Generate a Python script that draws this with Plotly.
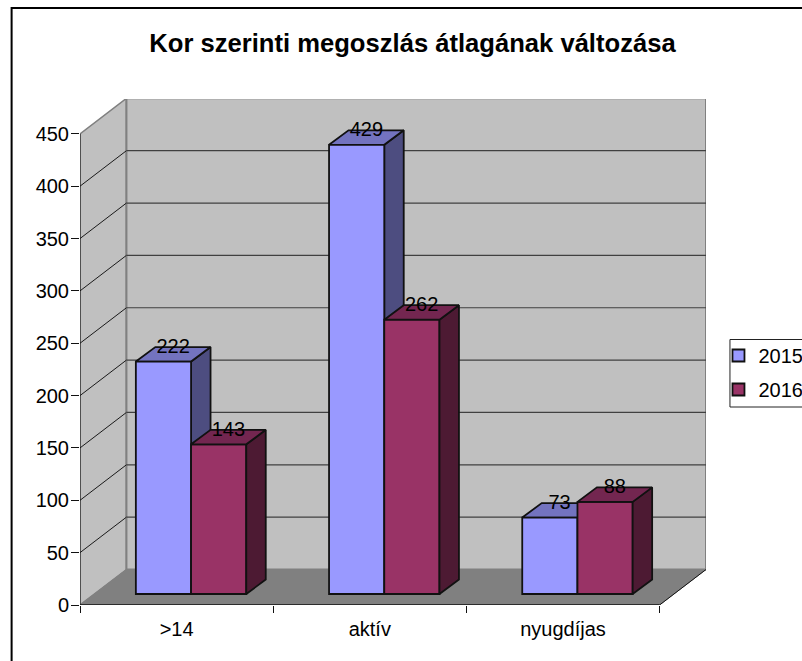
import plotly.graph_objects as go

categories = [">14", "aktív", "nyugdíjas"]
series_names = ["2015", "2016"]
values_2015 = [222, 429, 73]
values_2016 = [143, 262, 88]
y_ticks = [0, 50, 100, 150, 200, 250, 300, 350, 400, 450]
title_text = "Kor szerinti megoszlás átlagának változása"

W, H = 802, 661
PL, PR, PT, PB = 79.5, 706.5, 99, 605      # plot area, pixels
CAT_PX = (660 - 79.5) / 3
UNIT_PX = 1.047
Y_MAX = (PB - PT) / UNIT_PX
X_MIN = -0.5
X_MAX = X_MIN + (PR - PL) / CAT_PX

wall_dx, wall_dy = 46.5 / CAT_PX, 35.5 / UNIT_PX
front_dx, front_dy = 14.5 / CAT_PX, 11 / UNIT_PX
bar_dx, bar_dy = 19.5 / CAT_PX, 14.5 / UNIT_PX
bar_w = 55.3 / CAT_PX
label_up = 13.5 / UNIT_PX

FONT = "Liberation Sans"
COLORS = {
    "2015": dict(front="#9999FF", top="#7373BF", side="#4D4D80"),
    "2016": dict(front="#993366", top="#732650", side="#4D1A33"),
}


def px(x):
    return (x - PL) / (PR - PL)


def py(y):
    return (PB - y) / (PB - PT)


def poly(pts):
    return "M" + "L".join(f"{a},{b}" for a, b in pts) + "Z"


shapes = []
top_v = y_ticks[-1]
x0, x3 = X_MIN, 2.5
# walls and floor
shapes.append(dict(type="path", layer="below", xref="x", yref="y", fillcolor="#C0C0C0",
                   line=dict(color="#808080", width=1.5),
                   path=poly([(x0, 0), (x0 + wall_dx, wall_dy), (x0 + wall_dx, top_v + wall_dy), (x0, top_v)])))
shapes.append(dict(type="path", layer="below", xref="x", yref="y", fillcolor="#C0C0C0",
                   line=dict(color="#808080", width=2),
                   path=poly([(x0 + wall_dx, wall_dy), (x3 + wall_dx, wall_dy),
                              (x3 + wall_dx, top_v + wall_dy), (x0 + wall_dx, top_v + wall_dy)])))
shapes.append(dict(type="path", layer="below", xref="x", yref="y", fillcolor="#808080",
                   line=dict(color="#808080", width=1),
                   path=poly([(x0, 0), (x3, 0), (x3 + wall_dx, wall_dy), (x0 + wall_dx, wall_dy)])))
# gridlines
for v in y_ticks[1:-1]:
    shapes.append(dict(type="line", layer="below", xref="x", yref="y", x0=x0, y0=v,
                       x1=x0 + wall_dx, y1=v + wall_dy, line=dict(color="#1a1a1a", width=1)))
    shapes.append(dict(type="line", layer="below", xref="x", yref="y", x0=x0 + wall_dx, y0=v + wall_dy,
                       x1=x3 + wall_dx, y1=v + wall_dy, line=dict(color="#404040", width=1.2)))
# axis edges
shapes.append(dict(type="line", layer="above", xref="x", yref="y", x0=x0, y0=0, x1=x0, y1=top_v,
                   line=dict(color="#111111", width=1)))
shapes.append(dict(type="line", layer="above", xref="x", yref="y", x0=x0, y0=0, x1=x3, y1=0,
                   line=dict(color="#111111", width=1.5)))
shapes.append(dict(type="line", layer="below", xref="x", yref="y", x0=x3, y0=0, x1=x3 + wall_dx, y1=wall_dy,
                   line=dict(color="#111111", width=1)))
# chart frame (runs off the right and bottom of the page)
shapes.append(dict(type="rect", layer="below", xref="paper", yref="paper",
                   x0=px(11), x1=px(830), y0=py(690), y1=py(8),
                   line=dict(color="#000000", width=2), fillcolor="rgba(0,0,0,0)"))
# legend box
shapes.append(dict(type="rect", layer="below", xref="paper", yref="paper",
                   x0=px(730.5), x1=px(830), y0=py(407), y1=py(339.5),
                   line=dict(color="#222222", width=1), fillcolor="rgba(0,0,0,0)"))

fig = go.Figure()

centers = [i + front_dx for i in range(len(categories))]
for name, vals, off in ((series_names[0], values_2015, -bar_w), (series_names[1], values_2016, 0)):
    c = COLORS[name]
    fig.add_trace(go.Bar(
        x=centers, y=vals, base=[front_dy] * len(vals), width=bar_w, offset=off,
        name=name, legendgroup=name, zorder=2,
        marker=dict(color=c["front"], line=dict(color="#111111", width=1.8)),
    ))
    sx, sy, tx, ty = [], [], [], []
    for cx, v in zip(centers, vals):
        xl, xr = cx + off, cx + off + bar_w
        yb, yt = front_dy, front_dy + v
        sx += [xr, xr + bar_dx, xr + bar_dx, xr, xr, None]
        sy += [yb, yb + bar_dy, yt + bar_dy, yt, yb, None]
        tx += [xl, xl + bar_dx, xr + bar_dx, xr, xl, None]
        ty += [yt, yt + bar_dy, yt + bar_dy, yt, yt, None]
    z = 1 if name == series_names[0] else 3
    for fx, fy, col in ((sx, sy, c["side"]), (tx, ty, c["top"])):
        fig.add_trace(go.Scatter(x=fx, y=fy, mode="lines", fill="toself", fillcolor=col,
                                 line=dict(color="#111111", width=1.8), showlegend=False,
                                 hoverinfo="skip", zorder=z))
    fig.add_trace(go.Scatter(
        x=[cx + off + bar_w / 2 + bar_dx / 2 for cx in centers],
        y=[front_dy + v + label_up for v in vals],
        mode="text", text=[str(v) for v in vals], textposition="middle center",
        textfont=dict(family=FONT, size=20, color="#000000"),
        showlegend=False, hoverinfo="skip", zorder=4, cliponaxis=False,
    ))

fig.update_layout(
    width=W, height=H, autosize=False,
    margin=dict(l=PL, r=W - PR, t=PT, b=H - PB, pad=0, autoexpand=False),
    paper_bgcolor="#FFFFFF", plot_bgcolor="rgba(0,0,0,0)",
    barmode="overlay",
    font=dict(family=FONT, size=20, color="#000000"),
    title=dict(text=title_text, x=412.5 / W, xanchor="center", y=1 - 43 / H, yanchor="middle",
               font=dict(family=FONT, size=25.6, color="#000000", weight=700)),
    xaxis=dict(range=[X_MIN, X_MAX], tickvals=list(range(len(categories))), ticktext=categories,
               ticks="", showgrid=False, zeroline=False, showline=False,
               ticklabelstandoff=10, tickfont=dict(family=FONT, size=20),
               minor=dict(tickvals=[-0.5, 0.5, 1.5, 2.5], ticks="outside", ticklen=7,
                          tickwidth=1, tickcolor="#111111", showgrid=False)),
    yaxis=dict(range=[0, Y_MAX], tickvals=y_ticks, ticks="outside", ticklen=8, tickwidth=1,
               tickcolor="#111111", showgrid=False, zeroline=False, showline=False,
               ticklabelstandoff=-2, tickfont=dict(family=FONT, size=20)),
    legend=dict(x=px(719), y=py(336), xanchor="left", yanchor="top", bgcolor="rgba(0,0,0,0)",
                borderwidth=0, traceorder="grouped", tracegroupgap=5,
                font=dict(family=FONT, size=20, color="#000000")),
    shapes=shapes,
)

fig.write_html("out.html", config={"displayModeBar": False},
               post_script="document.body.style.margin='0';document.body.style.overflow='hidden';")
